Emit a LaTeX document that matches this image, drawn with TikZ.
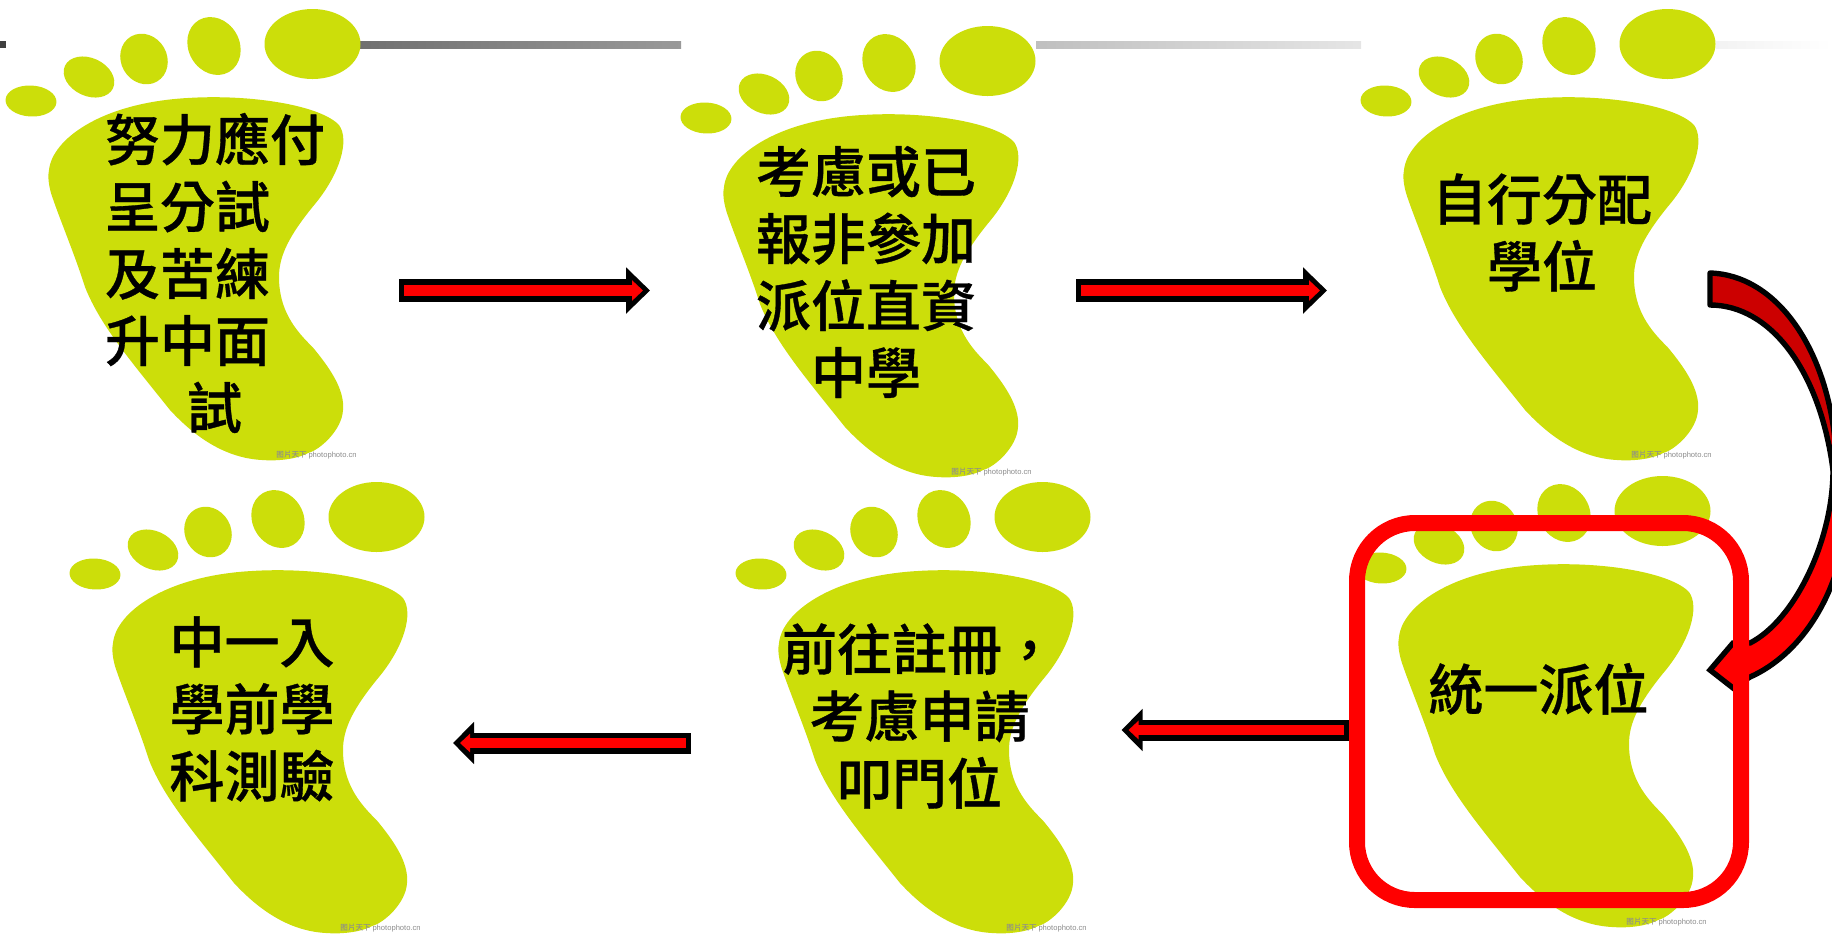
\documentclass[tikz,border=0pt]{standalone}
\usepackage{fontspec}
\setsansfont{Liberation Sans}
\newfontfamily\cjk{Noto Sans CJK TC Medium}
\newfontfamily\cjkheavy[FakeBold=0.6]{Noto Sans CJK TC Medium}
\usetikzlibrary{arrows.meta}

\definecolor{footgreen}{HTML}{CCDE0A}
\definecolor{darkfold}{HTML}{CC0000}

\begin{document}
\begin{tikzpicture}[
    x=0.5pt,y=-0.5pt,
    label/.style={font={\fontsize{27.5pt}{33.5pt}\selectfont\cjkheavy},align=center,inner sep=0pt},
    credit/.style={font={\fontsize{3.8pt}{4pt}\selectfont\cjk},text=black!45,inner sep=0pt},
    flow/.style={preaction={draw=black,line width=11.5pt,shorten <=0pt,shorten >=0pt,
            -{Triangle[length=12pt,width=22.5pt]}},
        draw=red,line width=5.5pt,shorten <=2.5pt,shorten >=3.5pt,-{Triangle[length=5.5pt,width=10pt]}},
    flowb/.style={preaction={draw=black,line width=10.5pt,shorten <=0pt,shorten >=0pt,
            -{Triangle[length=10.5pt,width=20.5pt]}},
        draw=red,line width=5pt,shorten <=2.5pt,shorten >=3.5pt,-{Triangle[length=5pt,width=9pt]}},
    pick/.style={draw=red,line width=8pt,rounded corners=29pt,outer sep=0pt,inner sep=0pt,
        minimum width=192pt,minimum height=188.5pt},
    foot/.pic={
        \fill[footgreen] (312.5,44) ellipse[x radius=48,y radius=35];
        \fill[footgreen] (214,46) ellipse[x radius=25.5,y radius=30,rotate=30];
        \fill[footgreen] (144,59) ellipse[x radius=23,y radius=26,rotate=30];
        \fill[footgreen] (89,77) ellipse[x radius=26.5,y radius=19,rotate=-25];
        \fill[footgreen] (31,101) ellipse[x radius=25.5,y radius=15.5,rotate=-3];
        \fill[footgreen] (49,170) .. controls (52,140) and (100,103) .. (187.5,98)
            .. controls (250,94) and (320,105) .. (339,125)
            .. controls (350,140) and (340,175) .. (312.5,207)
            .. controls (290,235) and (279,255) .. (279,277)
            .. controls (279,310) and (295,330) .. (312.5,347)
            .. controls (330,368) and (345,390) .. (343,410)
            .. controls (342,430) and (320,450) .. (308,453)
            .. controls (295,460) and (275,461) .. (262,460)
            .. controls (225,458) and (195,437) .. (170,410)
            .. controls (130,360) and (100,325) .. (85,287)
            .. controls (75,255) and (58,215) .. (51,193)
            .. controls (48,182) and (48,175) .. (49,170) -- cycle;
        \node[credit,anchor=west] (-credit) at (276,455) {图片天下 {\sffamily photophoto.cn}};
    },
]
    \useasboundingbox (0,0) rectangle (1832,934);

    % title rule
    \fill[black!75] (0,41) rectangle (6,48);
    \shade[left color=black!56,right color=black!40] (360,41) rectangle (681,48);
    \shade[left color=black!25,right color=black!10] (1036,41) rectangle (1361,48);
    \shade[left color=black!5,right color=white] (1716,41) rectangle (1832,48);

    \pic (foot1) at (0,0) {foot};
    \pic (foot2) at (675,17) {foot};
    \pic (foot3) at (1355,0) {foot};
    \pic (foot4) at (64,473) {foot};
    \pic (foot5) at (730,473) {foot};
    \pic (foot6) at (1350,467) {foot};

    \node[label,align=left] (prep) at (215,273) {努力應付\\呈分試\\及苦練\\升中面\\\hspace*{41pt}試};
    \node[label] (direct) at (866,272) {考慮或已\\報非參加\\派位直資\\中學};
    \node[label] (allot) at (1542,232.5) {自行分配\\學位};
    \node[label] (central) at (1538.5,689) {統一派位};
    \node[label] (register) at (919.5,716) {前往註冊，\\考慮申請\\叩門位};
    \node[label] (test) at (252,709) {中一入\\學前學\\科測驗};

    \coordinate (a1s) at (399,290.5);
    \coordinate (a1e) at (650,290.5);
    \coordinate (a2s) at (1076,290.5);
    \coordinate (a2e) at (1327,290.5);
    \coordinate (a3s) at (1349,730);
    \coordinate (a3e) at (1121.5,730);
    \coordinate (a4s) at (691,743);
    \coordinate (a4e) at (453,743);
    \draw[flow] (a1s) -- (a1e);
    \draw[flow] (a2s) -- (a2e);
    \draw[flowb] (a3s) -- (a3e);
    \draw[flowb] (a4s) -- (a4e);

    % curved arrow, runs off the right edge
    \begin{scope}
        \clip (0,0) rectangle (1832,934);
        \draw[black,fill=red,line width=2.7pt,line join=miter]
            (1833,470) .. controls (1833,540) and (1795,620) .. (1750,643)
            -- (1733,643) -- (1710,670) -- (1733,688) -- (1750,677)
            .. controls (1800,655) and (1850,590) .. (1850,480) -- cycle;
        \draw[black,fill=darkfold,line width=2.7pt,line join=round]
            (1710,273) .. controls (1775,275) and (1825,345) .. (1835,440)
            -- (1833,470) .. controls (1820,370) and (1770,305) .. (1710,305) -- cycle;
    \end{scope}

    \node[pick] (frame) at (1549,711.5) {};
\end{tikzpicture}
\end{document}
